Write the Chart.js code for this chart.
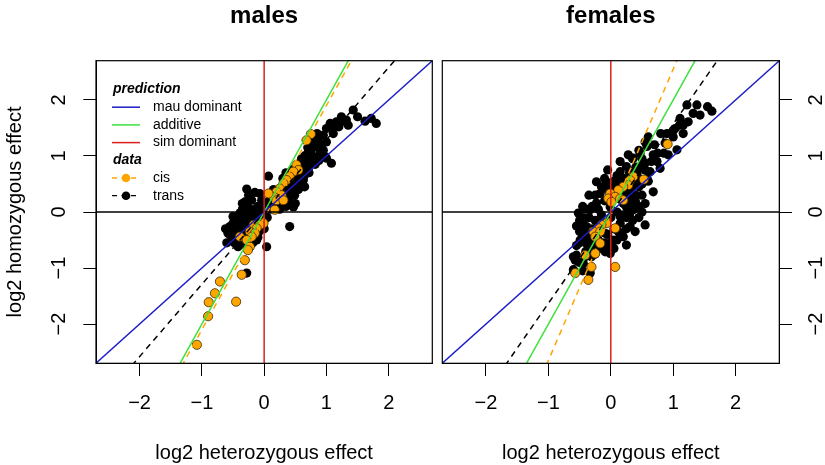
<!DOCTYPE html>
<html><head><meta charset="utf-8">
<script src="https://cdn.jsdelivr.net/npm/chart.js@4.4.1/dist/chart.umd.min.js"></script>
<style>
html,body{margin:0;padding:0;background:#fff;}
#wrap{position:relative;width:825px;height:465px;overflow:hidden;}
canvas{position:absolute;left:0;top:0;}
</style></head><body>
<div id="wrap"><canvas id="c1" width="825" height="465"></canvas><canvas id="c2" width="825" height="465"></canvas></div>
<script>
// ---------- data ----------
const panelTitles = ['males', 'females'];
const xAxisTitle = 'log2 heterozygous effect';
const yAxisTitle = 'log2 homozygous effect';
const tickValues = [-2, -1, 0, 1, 2];
const axisLimits = [-2.7, 2.7];
const predictionLabels = ['mau dominant', 'additive', 'sim dominant'];
const dataLabels = ['cis', 'trans'];
const legendHeaders = ['prediction', 'data'];

// males, trans (black)
const maleTransX = [1.43,1.24,1.32,1.16,1.06,1.35,1.00,1.11,0.95,0.87,1.00,0.76,0.84,0.76,0.90,0.79,1.00,1.08,0.98,0.68,0.76,0.63,0.71,0.57,0.65,0.52,0.63,0.49,0.65,0.41,0.31,0.41,0.49,0.36,0.47,0.25,0.41,0.20,0.07,-0.28,-0.20,-0.31,-0.26,-0.39,-0.50,-0.42,-0.55,-0.47,-0.58,-0.42,-0.52,-0.34,-0.12,0.04,-0.28,-0.42,-0.28,-0.07,-0.12,-0.20,-0.15,-0.04,-0.07,1.72,1.80,1.62,0.30,0.35,0.45,0.50,0.55,0.40,0.45,0.55,0.35,0.30,0.40,0.50,0.35,0.25,0.15,0.20,0.10,0.05,-0.05,-0.15,-0.25,-0.35,-0.30,-0.40,-0.45,-0.35,-0.20,-0.25,-0.10,0.00,-0.30,-0.20,-0.10,0.00,-0.35,0.55,0.60,0.70,
  0.85,0.92,0.70,0.80,0.65,0.88,0.95,0.60,0.72,0.82,0.58,0.45,0.38,0.52,0.60,1.20,1.28,1.50,1.10,-0.50,-0.45,-0.38,-0.55,-0.48,-0.40,-0.32,-0.28,-0.22,-0.15,-0.10,-0.05,0.02,0.05,-0.60,-0.62,-0.18,-0.08,-0.02,0.10,0.15,-0.15,-0.25,-0.35];
const maleTransY = [1.82,1.70,1.64,1.61,1.58,1.55,1.49,1.40,1.37,1.32,1.25,1.25,1.17,1.11,1.05,0.99,0.96,0.87,0.99,0.93,0.90,0.81,0.78,0.72,0.66,0.63,0.57,0.54,0.45,0.51,0.45,0.39,0.30,0.27,0.09,0.21,-0.26,0.09,0.64,0.41,0.21,0.18,0.09,-0.02,-0.08,-0.14,-0.26,-0.32,-0.38,-0.44,-0.47,-0.50,-0.50,-0.62,-0.62,-0.62,-1.09,0.04,-0.14,-0.08,-0.32,0.21,0.33,1.67,1.58,1.62,0.60,0.70,0.75,0.65,0.55,0.45,0.40,0.40,0.35,0.25,0.20,0.15,0.10,0.05,0.15,0.30,0.05,-0.10,-0.20,-0.25,-0.30,-0.35,-0.20,-0.25,-0.40,-0.50,-0.40,-0.55,-0.45,-0.30,-0.05,0.00,0.10,0.15,0.05,0.85,0.95,1.05,
  1.40,1.20,1.15,1.30,1.00,0.92,1.10,0.80,0.70,0.85,0.62,0.55,0.58,0.48,0.50,1.52,1.62,1.70,1.48,-0.20,-0.10,-0.15,-0.40,-0.55,-0.55,-0.42,-0.15,-0.05,0.05,-0.05,0.05,0.00,0.10,-0.55,-0.30,-0.55,-0.35,-0.15,0.25,0.40,0.35,0.30,0.15];
// males, cis (orange)
const maleCisX = [0.75,0.68,0.52,0.55,0.47,0.41,0.36,0.31,0.25,0.20,0.28,0.15,0.07,0.20,0.31,0.17,-0.01,-0.07,-0.17,-0.12,-0.23,-0.15,-0.20,-0.39,-0.28,-0.23,-0.26,-0.31,-0.36,-0.71,-0.79,-0.89,-0.45,-0.90,-1.08];
const maleCisY = [1.39,1.28,0.84,0.75,0.72,0.63,0.57,0.51,0.42,0.36,0.30,0.27,0.33,0.21,0.21,0.04,-0.20,-0.23,-0.23,-0.29,-0.35,-0.38,-0.44,-0.44,-0.50,-0.62,-0.68,-0.86,-1.12,-1.24,-1.45,-1.61,-1.60,-1.86,-2.37];

// females, trans (black)
const femaleTransX = [1.22,1.38,1.43,1.32,1.11,1.24,1.16,1.03,0.90,1.16,1.00,0.87,1.06,0.92,0.60,0.58,0.47,0.68,0.28,0.36,0.74,0.79,0.55,0.47,0.15,0.25,0.42,0.63,0.58,0.09,-0.07,-0.23,-0.17,0.15,0.68,0.39,0.25,-0.01,-0.23,-0.33,-0.52,-0.44,-0.39,-0.17,0.15,0.36,0.55,0.31,0.20,0.25,0.39,0.12,0.04,-0.09,-0.31,-0.47,-0.49,-0.39,-0.23,-0.07,-0.55,-0.41,-0.31,-0.57,-0.44,-0.60,-0.33,-0.09,-0.01,1.55,1.62,-0.40,-0.30,-0.20,-0.10,0.00,0.10,0.20,0.30,0.10,0.00,-0.10,-0.20,-0.35,-0.45,-0.50,-0.35,-0.20,-0.05,0.05,0.15,0.25,0.30,0.20,0.35,0.45,-0.05,0.05,-0.30,-0.15,-0.25,0.40,0.30,0.50,0.55,
  -0.55,-0.50,-0.45,-0.40,-0.30,-0.25,-0.15,-0.10,0.00,0.10,0.20,0.25,0.35,0.45,0.50,0.60,0.40,0.30,0.45,0.50,0.35,0.25,0.10,0.05,-0.10,-0.25,-0.40,-0.50,-0.45,-0.60,0.35,0.45,0.55,0.70,0.75,0.65,0.85,1.00,1.10,0.80,0.15,-0.05,
  -0.45,-0.35,-0.30,-0.15,0.00,0.15,0.20,0.30,0.40,0.35,0.25,-0.50,-0.55,-0.45,-0.35,0.50,0.55,0.45];
const femaleTransY = [1.91,1.91,1.73,1.76,1.67,1.61,1.55,1.49,1.40,1.40,1.34,1.23,1.11,1.02,1.34,1.17,1.05,1.02,1.02,0.96,0.90,0.78,0.87,0.81,0.72,0.81,0.69,0.72,0.60,0.54,0.54,0.54,0.33,0.33,0.36,0.21,0.09,0.09,0.16,0.04,-0.02,-0.14,-0.26,-0.14,-0.08,0.04,-0.23,-0.26,-0.44,-0.59,-0.35,-0.35,-0.50,-0.38,-0.41,-0.35,-0.50,-0.56,-0.62,-0.65,-0.77,-0.80,-0.80,-0.86,-0.92,-1.03,-1.09,-0.71,-0.74,1.88,1.80,-0.40,-0.30,-0.25,-0.20,-0.10,0.00,0.15,0.25,0.25,0.30,0.20,0.05,-0.10,-0.25,-0.55,-0.65,-0.50,-0.40,-0.30,-0.20,-0.10,0.40,0.45,0.55,0.45,0.40,0.55,-0.55,-0.05,-0.15,0.80,0.70,0.95,0.75,
  -0.60,-0.35,-0.10,0.05,0.10,0.30,0.45,0.60,0.45,0.65,0.60,0.50,0.45,0.60,0.50,0.55,0.30,0.10,0.10,0.00,-0.15,-0.30,-0.50,-0.65,-0.55,-0.75,-0.70,-0.90,-1.05,-0.80,0.95,1.10,1.25,1.20,1.05,0.90,1.05,1.45,1.55,1.40,0.90,0.75,
  -0.45,-0.45,-0.70,-0.65,-0.55,-0.40,-0.05,-0.05,0.15,0.30,0.35,-0.15,-0.25,0.10,0.30,0.30,0.15,-0.10];
// females, cis (orange)
const femaleCisX = [0.91,0.53,0.36,0.31,0.28,0.20,0.12,-0.01,0.07,0.15,0.20,-0.04,0.01,-0.07,-0.15,-0.20,-0.28,-0.17,-0.25,0.07,-0.17,-0.41,-0.25,-0.31,0.07,-0.57,-0.36];
const femaleCisY = [1.21,0.58,0.63,0.57,0.48,0.45,0.39,0.33,0.27,0.24,0.21,0.24,0.18,-0.20,-0.23,-0.29,-0.35,-0.35,-0.44,-0.29,-0.56,-0.77,-0.74,-0.98,-0.98,-1.09,-1.21];

// fitted lines [intercept, slope]
const maleCisFit = [-0.10, 2.00];
const maleTransFit = [0.00, 1.29];
const femaleCisFit = [-0.05, 2.60];
const femaleTransFit = [-0.03, 1.60];
// predictions: mau dominant y = x, additive y = 2x, sim dominant x = 0
const mauDominantFit = [0, 1];
const additiveFit = [0, 2];

// ---------- styling ----------
const FONT = "'Liberation Sans', Arial, Helvetica, sans-serif";
Chart.defaults.font.family = FONT;
Chart.defaults.color = '#000';
const COL = { blue: '#1c1cc8', green: '#3ee03e', red: '#dd1f1f', orange: '#ffa500', black: '#000' };

function pts(xs, ys) { return xs.map((x, i) => ({ x: x, y: ys[i] })); }
function fitLine(f) { return axisLimits.map(x => ({ x: x, y: f[0] + f[1] * x })); }
function fmt(v) { return v < 0 ? '\u2212' + Math.abs(v) : String(v); }

const framePlugin = {
  id: 'frame',
  afterDatasetsDraw(chart, args, o) {
    const { ctx, chartArea: a } = chart;
    ctx.save();
    ctx.strokeStyle = '#000'; ctx.lineWidth = 1.2;
    ctx.strokeRect(a.left, a.top, a.right - a.left, a.bottom - a.top);
    ctx.fillStyle = '#000';
    ctx.font = 'bold 24px ' + FONT;
    ctx.textAlign = 'center'; ctx.textBaseline = 'middle';
    ctx.fillText(o.title, (a.left + a.right) / 2, 16);
    ctx.restore();
  }
};

const legendPlugin = {
  id: 'rlegend',
  afterDatasetsDraw(chart, args, o) {
    if (!o.show) return;
    const ctx = chart.ctx;
    const x0 = 112, x1 = 140, xt = 153, xh = 113, dy = 17.7;
    let y = 89.5;
    ctx.save();
    ctx.textBaseline = 'middle'; ctx.textAlign = 'left'; ctx.fillStyle = '#000';
    ctx.font = 'italic bold 14px ' + FONT;
    ctx.fillText(legendHeaders[0], xh, y);
    const predCols = [COL.blue, COL.green, COL.red];
    ctx.font = '14px ' + FONT;
    predictionLabels.forEach((lab, i) => {
      y += dy;
      ctx.strokeStyle = predCols[i]; ctx.lineWidth = 1.5; ctx.setLineDash([]);
      ctx.beginPath(); ctx.moveTo(x0, y); ctx.lineTo(x1, y); ctx.stroke();
      ctx.fillText(lab, xt, y);
    });
    y += dy;
    ctx.font = 'italic bold 14px ' + FONT;
    ctx.fillText(legendHeaders[1], xh, y);
    ctx.font = '14px ' + FONT;
    const dataCols = [COL.orange, COL.black];
    dataLabels.forEach((lab, i) => {
      y += dy;
      ctx.strokeStyle = dataCols[i]; ctx.lineWidth = 1.3; ctx.setLineDash([5, 4.5]);
      ctx.beginPath(); ctx.moveTo(x0, y); ctx.lineTo(x1, y); ctx.stroke();
      ctx.setLineDash([]);
      ctx.fillStyle = dataCols[i];
      ctx.beginPath(); ctx.arc(126, y, 4.3, 0, Math.PI * 2); ctx.fill();
      ctx.fillStyle = '#000';
      ctx.fillText(lab, xt, y);
    });
    ctx.restore();
  }
};

function lineDS(data, color, dash, order) {
  return { data: data, showLine: true, pointRadius: 0, borderColor: color, borderWidth: 1.5,
           borderDash: dash, fill: false, clip: 0, order: order };
}

function makePanel(id, idx, trans, cis, cisFit, transFit, isLeft) {
  const datasets = [
    lineDS([{ x: 0, y: axisLimits[0] }, { x: 0, y: axisLimits[1] }], COL.red, [], 1),
    lineDS(axisLimits.map(x => ({ x: x, y: 0 })), COL.black, [], 2),
    lineDS(fitLine(mauDominantFit), COL.blue, [], 3),
    lineDS(fitLine(additiveFit), COL.green, [], 4),
    lineDS(fitLine(cisFit), COL.orange, [6, 5], 5),
    lineDS(fitLine(transFit), COL.black, [6, 5], 6),
    { data: cis, pointRadius: 4.6, pointBackgroundColor: COL.orange, pointBorderColor: '#3a2a00', pointBorderWidth: 0.8, showLine: false, clip: 0, order: 7 },
    { data: trans, pointRadius: 4.6, pointBackgroundColor: '#000', pointBorderColor: '#000', pointBorderWidth: 0, showLine: false, clip: 0, order: 8 }
  ];
  const yAxis = {
    type: 'linear', position: isLeft ? 'left' : 'right', min: axisLimits[0], max: axisLimits[1],
    afterBuildTicks: s => { s.ticks = tickValues.map(v => ({ value: v })); },
    afterFit: s => { s.width = isLeft ? 96 : 45.7; },
    ticks: { minRotation: 90, maxRotation: 90, crossAlign: 'center', padding: isLeft ? 12 : 13,
             autoSkip: false, font: { size: 20 }, color: '#000', callback: v => fmt(v) },
    grid: { drawOnChartArea: false, drawTicks: true, tickLength: 12.7, color: '#000', lineWidth: 1 },
    border: { display: true, color: '#000', width: 1 },
    title: { display: isLeft, text: yAxisTitle, font: { size: 20 }, color: '#000', padding: { top: 3, bottom: 0 } }
  };
  const xAxis = {
    type: 'linear', position: 'bottom', min: axisLimits[0], max: axisLimits[1],
    afterBuildTicks: s => { s.ticks = tickValues.map(v => ({ value: v })); },
    afterFit: s => { s.height = 101.7; },
    ticks: { maxRotation: 0, minRotation: 0, padding: 15, autoSkip: false, font: { size: 20 }, color: '#000', callback: v => fmt(v) },
    grid: { drawOnChartArea: false, drawTicks: true, tickLength: 12.7, color: '#000', lineWidth: 1 },
    border: { display: true, color: '#000', width: 1 },
    title: { display: true, text: xAxisTitle, font: { size: 20 }, color: '#000', padding: { top: 0, bottom: 0 } }
  };
  return new Chart(document.getElementById(id), {
    type: 'scatter',
    data: { datasets: datasets },
    options: {
      responsive: false, animation: false, events: [],
      layout: { padding: isLeft ? { left: 0, right: 392.7, top: 60.7, bottom: 0 } : { left: 442.3, right: 0, top: 60.7, bottom: 0 } },
      scales: { x: xAxis, y: yAxis },
      plugins: { legend: { display: false }, tooltip: { enabled: false },
                 frame: { title: panelTitles[idx] }, rlegend: { show: isLeft } }
    },
    plugins: [framePlugin, legendPlugin]
  });
}

makePanel('c1', 0, pts(maleTransX, maleTransY), pts(maleCisX, maleCisY), maleCisFit, maleTransFit, true);
makePanel('c2', 1, pts(femaleTransX, femaleTransY), pts(femaleCisX, femaleCisY), femaleCisFit, femaleTransFit, false);
</script>
</body></html>
